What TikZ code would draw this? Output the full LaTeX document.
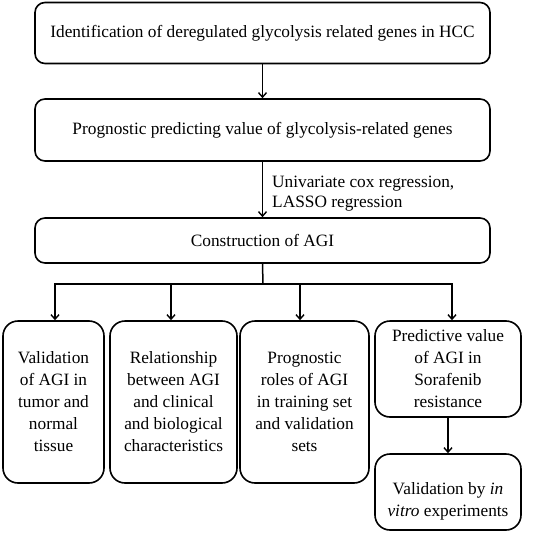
\documentclass[tikz,border=0pt]{standalone}
\usepackage{fontspec}
\setmainfont{Liberation Serif}
\usetikzlibrary{arrows.meta,calc}
\begin{document}
\begin{tikzpicture}[x=1pt,y=-1pt,
  box/.style={draw,line width=1.6pt,rounded corners=10pt,align=center,inner sep=0pt,
    font=\fontsize{17.3}{22}\selectfont},
  bigbox/.style={box,rounded corners=15pt},
  arr/.style={line width=1.5pt,-{Straight Barb[length=4.5pt,width=8pt,line width=1.4pt]}},
  ln/.style={line width=1.5pt}]
\useasboundingbox (0,0) rectangle (536,533);
\node[box,minimum width=455pt,minimum height=61pt] (b1) at (262.5,33) {Identification of deregulated glycolysis related genes in HCC};
\node[box,minimum width=455pt,minimum height=62pt] (b2) at (262.5,130) {Prognostic predicting value of glycolysis-related genes};
\node[box,minimum width=455pt,minimum height=45pt] (b3) at (262.5,240.5) {Construction of AGI};
\node[bigbox,minimum width=101pt,minimum height=162pt] (ba) at (53.5,402) {Validation\\of AGI in\\tumor and\\normal\\tissue};
\node[bigbox,minimum width=127pt,minimum height=162pt] (bb) at (173.5,402) {Relationship\\between AGI\\and clinical\\and biological\\characteristics};
\node[bigbox,minimum width=129pt,minimum height=162pt] (bc) at (304.5,402) {Prognostic\\roles of AGI\\in training set\\and validation\\sets};
\node[bigbox,minimum width=146pt,minimum height=96pt] (bd) at (448,369) {Predictive value\\of AGI in\\Sorafenib\\resistance};
\node[bigbox,minimum width=146pt,minimum height=76pt,text depth=0pt] (be) at (448,492) {\raisebox{-1pt}{\begin{tabular}{@{}c@{}}Validation by \textit{in}\\[0pt]\textit{vitro} experiments\end{tabular}}};
\node[anchor=west,align=left,inner sep=0pt,font=\fontsize{17.3}{20}\selectfont] (lab) at (272,194) {Univariate cox regression,\\LASSO regression};
\coordinate (j) at (263,284);
\draw[arr] (b1.south) -- (b2.north);
\draw[arr] (b2.south) -- (b3.north);
\draw[ln] (b3.south) -- (j);
\draw[arr] (j) -| ([xshift=1.5pt]ba.north);
\draw[arr] (j) -| ([xshift=-2.5pt]bb.north);
\draw[arr] (j) -| ([xshift=-4.5pt]bc.north);
\draw[arr] (j) -| ([xshift=4pt]bd.north);
\draw[arr] (bd.south) -- (be.north);
\end{tikzpicture}
\end{document}
